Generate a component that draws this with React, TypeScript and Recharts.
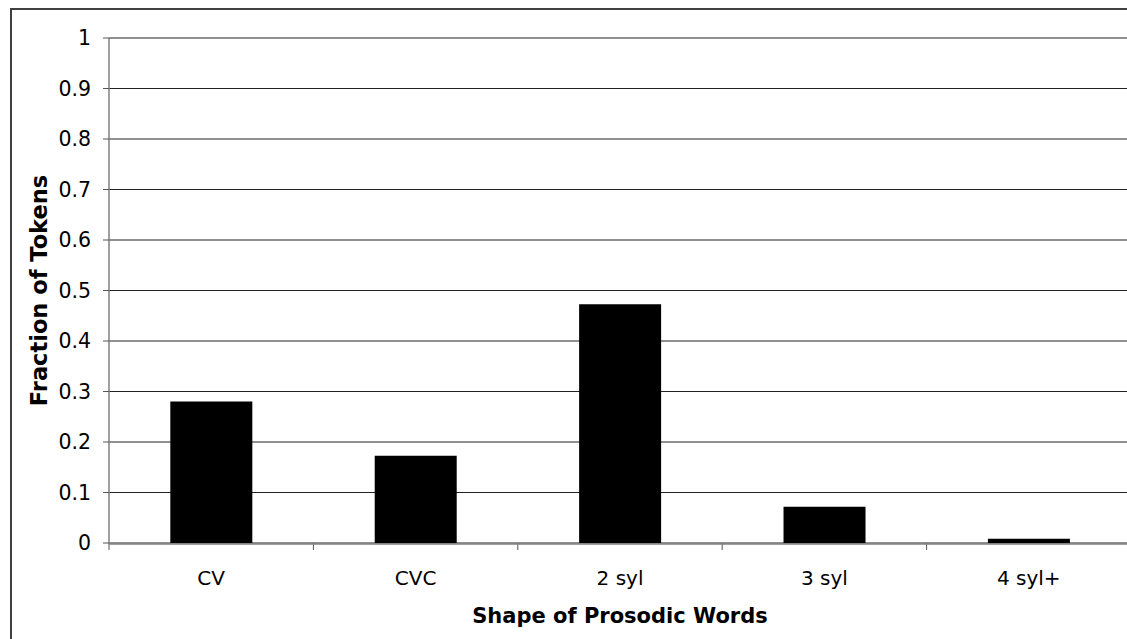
import React from "react";
import { Bar, BarChart, CartesianGrid, XAxis, YAxis } from "recharts";

const categories = ["CV", "CVC", "2 syl", "3 syl", "4 syl+"];
const fractions = [0.28, 0.173, 0.473, 0.072, 0.0085];
const yTicks = [0, 0.1, 0.2, 0.3, 0.4, 0.5, 0.6, 0.7, 0.8, 0.9, 1];
const boundaryTicks = [0, 1, 2, 3, 4, 5];

const data = categories.map((shape, i) => ({ shape, fraction: fractions[i], edge: i }));

const font = "'DejaVu Sans', Verdana, sans-serif";

export default function App() {
  return (
    <div style={{ position: "absolute", left: 0, top: 0, width: 1127, height: 639, overflow: "hidden", background: "#fff" }}>
      {/* outer frame, cropped on the right and bottom like the original */}
      <div
        style={{
          position: "absolute",
          left: 10,
          top: 8,
          width: 1140,
          height: 660,
          border: "2px solid #404040",
        }}
      />
      <div style={{ position: "absolute", left: 0, top: 0 }}>
        <BarChart
          width={1131}
          height={639}
          data={data}
          margin={{ top: 38, right: 0, left: 0, bottom: 0 }}
          barCategoryGap="30%"
          style={{ fontFamily: font }}
        >
          <CartesianGrid xAxisId="main" vertical={false} stroke="#222" strokeWidth={1.2} />
          {/* tick marks sit between categories, so a hidden number axis draws them */}
          <XAxis
            xAxisId="edges"
            dataKey="edge"
            type="number"
            domain={[0, 5]}
            allowDataOverflow
            ticks={boundaryTicks}
            tick={() => <g />}
            axisLine={false}
            tickSize={7}
            tickMargin={0}
            tickLine={{ stroke: "#555" }}
            height={1}
          />
          <XAxis
            xAxisId="main"
            dataKey="shape"
            axisLine={{ stroke: "#808080", strokeWidth: 1.5 }}
            tickLine={false}
            tickSize={6}
            tickMargin={21}
            height={95}
            tick={{ fill: "#000", fontSize: 20, fontFamily: font }}
            label={{
              value: "Shape of Prosodic Words",
              position: "insideBottom",
              offset: 16,
              style: { fill: "#000", fontSize: 21, fontWeight: "bold", fontFamily: font },
            }}
          />
          <YAxis
            domain={[0, 1]}
            ticks={yTicks}
            width={109}
            axisLine={{ stroke: "#808080", strokeWidth: 1.5 }}
            tickLine={{ stroke: "#555" }}
            tickSize={6}
            tickMargin={12}
            tick={{ fill: "#000", fontSize: 20.5, fontFamily: font }}
            label={{
              value: "Fraction of Tokens",
              angle: -90,
              position: "insideLeft",
              offset: 39,
              style: { fill: "#000", fontSize: 22.5, fontWeight: "bold", fontFamily: font, textAnchor: "middle" },
            }}
          />
          <Bar xAxisId="main" dataKey="fraction" fill="#000" isAnimationActive={false} />
        </BarChart>
      </div>
    </div>
  );
}
